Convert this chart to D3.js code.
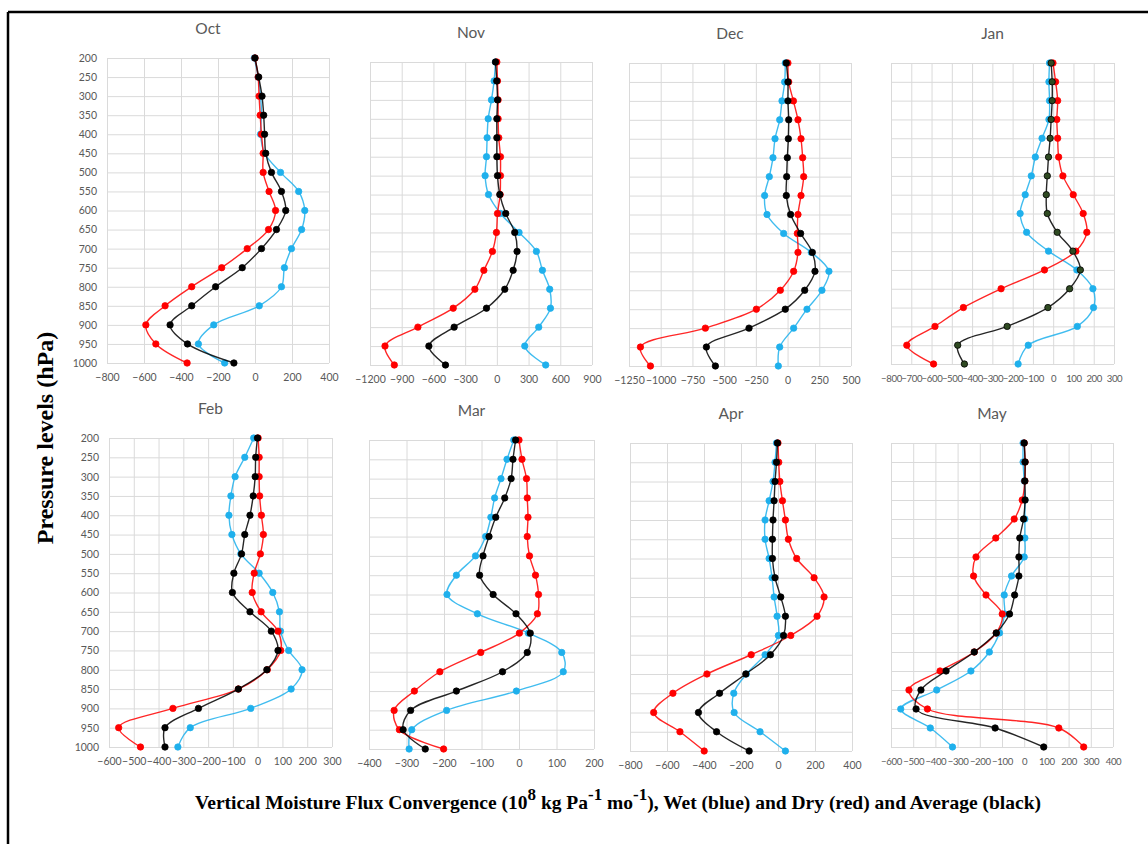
<!DOCTYPE html>
<html>
<head>
<meta charset="utf-8">
<script src="https://cdn.jsdelivr.net/npm/d3@7"></script>
<style>
  html, body { margin: 0; padding: 0; background: #fff; }
  svg { display: block; }
</style>
</head>
<body>
<svg id="chart" width="1148" height="844"></svg>
<script>
// ---------- DATA ----------
const levels = [200, 250, 300, 350, 400, 450, 500, 550, 600, 650, 700, 750, 800, 850, 900, 950, 1000];
const months = ["Oct", "Nov", "Dec", "Jan", "Feb", "Mar", "Apr", "May"];

const octTicks = [-800, -600, -400, -200, 0, 200, 400];
const octWet = [-4, 17, 30, 35, 30, 52, 138, 236, 269, 252, 197, 159, 143, 23, -223, -306, -164];
const octDry = [0, 17, 22, 28, 35, 44, 44, 76, 111, 73, -42, -180, -342, -486, -590, -536, -367];
const octAvg = [0, 20, 38, 47, 52, 58, 89, 143, 166, 116, 35, -69, -213, -342, -459, -365, -114];

const novTicks = [-1200, -900, -600, -300, 0, 300, 600, 900];
const novWet = [-13, -26, -51, -82, -92, -98, -111, -79, 34, 210, 374, 431, 500, 507, 396, 264, 462];
const novDry = [0, 6, 12, 12, 18, 34, 34, 31, 6, -4, -42, -123, -208, -413, -747, -1058, -970];
const novAvg = [-13, -1, 6, 0, 0, 0, 6, 28, 84, 169, 191, 154, 75, -98, -404, -643, -486];

const decTicks = [-1250, -1000, -750, -500, -250, 0, 250, 500];
const decWet = [-18, -23, -44, -62, -99, -115, -144, -181, -162, -31, 187, 326, 271, 153, 48, -62, -73];
const decDry = [3, 9, 46, 82, 106, 119, 127, 106, 82, 77, 82, 48, -57, -246, -648, -1160, -1081];
const decAvg = [-10, 3, 3, 9, 6, -2, -7, -10, 24, 103, 195, 216, 135, -18, -304, -640, -569];

const janTicks = [-800, -700, -600, -500, -400, -300, -200, -100, 0, 100, 200, 300];
const janWet = [-18, -21, -18, -21, -55, -88, -108, -138, -163, -131, -23, 117, 196, 199, 119, -123, -173];
const janDry = [-1, 12, 22, 18, 22, 27, 48, 99, 148, 166, 112, -43, -257, -443, -583, -722, -590];
const janAvg = [-10, -5, -5, -10, -15, -23, -29, -34, -29, 20, 97, 134, 81, -26, -227, -471, -438];

const febTicks = [-600, -500, -400, -300, -200, -100, 0, 100, 200, 300];
const febWet = [-16, -52, -91, -108, -116, -104, -68, 6, 61, 88, 92, 125, 179, 135, -28, -272, -322];
const febDry = [2, 6, 6, 8, 15, 23, 11, -14, -22, 14, 82, 93, 39, -78, -342, -561, -473];
const febAvg = [-1, -8, -10, -18, -31, -52, -65, -96, -102, -31, 55, 82, 37, -78, -239, -374, -374];

const marTicks = [-400, -300, -200, -100, 0, 100, 200];
const marWet = [-14, -32, -48, -65, -75, -89, -116, -167, -192, -111, 25, 114, 118, -7, -193, -286, -293];
const marDry = [0, 8, 20, 22, 24, 22, 28, 44, 52, 49, 1, -102, -211, -279, -333, -319, -201];
const marAvg = [-9, -16, -21, -38, -62, -80, -96, -105, -69, -8, 30, 22, -44, -167, -289, -309, -250];

const aprTicks = [-800, -600, -400, -200, 0, 200, 400];
const aprWet = [-8, -16, -27, -48, -70, -70, -48, -32, -21, -5, 2, -70, -171, -239, -237, -97, 40];
const aprDry = [0, 4, 10, 24, 40, 56, 101, 195, 249, 211, 69, -145, -384, -568, -672, -530, -399];
const aprAvg = [-3, -8, -16, -21, -27, -30, -30, -16, 15, 40, 30, -41, -174, -316, -430, -332, -156];

const mayTicks = [-600, -500, -400, -300, -200, -100, 0, 100, 200, 300, 400];
const mayWet = [-5, -5, 0, 3, 3, 3, 0, -57, -90, -88, -111, -157, -240, -394, -556, -423, -323];
const mayDry = [0, 4, 3, -9, -45, -128, -217, -228, -172, -99, -126, -225, -379, -519, -436, 156, 268];
const mayAvg = [0, 4, 3, 4, -3, -20, -24, -24, -43, -66, -126, -225, -352, -465, -487, -131, 88];

const yLabel = "Pressure levels (hPa)";

// ---------- LAYOUT / STYLE ----------
const panels = [
  { name: months[0], ticks: octTicks, wet: octWet, dry: octDry, avg: octAvg, box: [107, 329, 58, 363], yLabels: true },
  { name: months[1], ticks: novTicks, wet: novWet, dry: novDry, avg: novAvg, box: [370, 592, 62, 365] },
  { name: months[2], ticks: decTicks, wet: decWet, dry: decDry, avg: decAvg, box: [629, 851, 63, 366] },
  { name: months[3], ticks: janTicks, wet: janWet, dry: janDry, avg: janAvg, box: [891, 1114, 63, 364], avgFill: "#2f4a22", dense: true },
  { name: months[4], ticks: febTicks, wet: febWet, dry: febDry, avg: febAvg, box: [109, 332, 438, 747], yLabels: true },
  { name: months[5], ticks: marTicks, wet: marWet, dry: marDry, avg: marAvg, box: [369, 594, 440, 749] },
  { name: months[6], ticks: aprTicks, wet: aprWet, dry: aprDry, avg: aprAvg, box: [630, 852, 443, 751] },
  { name: months[7], ticks: mayTicks, wet: mayWet, dry: mayDry, avg: mayAvg, box: [891, 1113, 443, 747], dense: true }
];

const BLUE = "#1fb0ec", RED = "#ff0000", BLACK = "#000000";
const labelFont = "Lato, 'Open Sans', sans-serif";
const grey = "#595959";

const svg = d3.select("#chart");

// frame (top and left edges)
svg.append("line").attr("x1", 8).attr("x2", 1148).attr("y1", 12).attr("y2", 12)
  .attr("stroke", "#000").attr("stroke-width", 2.5);
svg.append("line").attr("x1", 8).attr("x2", 8).attr("y1", 12).attr("y2", 844)
  .attr("stroke", "#000").attr("stroke-width", 2.5);

panels.forEach(p => {
  const [x0, x1, y0, y1] = p.box;
  const t = p.ticks;
  const x = d3.scaleLinear().domain([t[0], t[t.length - 1]]).range([x0, x1]);
  const y = d3.scaleLinear().domain([200, 1000]).range([y0, y1]);
  const g = svg.append("g");

  // grid: horizontal
  g.append("g")
    .attr("transform", `translate(${x0},0)`)
    .call(d3.axisLeft(y).tickValues(levels).tickSize(-(x1 - x0)).tickFormat(p.yLabels ? d3.format("d") : ""))
    .call(a => a.select(".domain").remove())
    .call(a => a.selectAll("line").attr("stroke", "#dadada").attr("stroke-width", 1))
    .call(a => a.selectAll("text").attr("fill", grey).attr("font-size", 10.5)
      .attr("font-family", labelFont).attr("x", -10));

  // grid: vertical + x tick labels
  g.append("g")
    .attr("transform", `translate(0,${y1})`)
    .call(d3.axisBottom(x).tickValues(t).tickSize(-(y1 - y0)).tickFormat(d3.format("d")))
    .call(a => a.select(".domain").remove())
    .call(a => a.selectAll("line").attr("stroke", "#dadada").attr("stroke-width", 1))
    .call(a => a.selectAll("text").attr("fill", grey)
      .attr("font-size", p.dense ? 9.6 : 10.5)
      .attr("letter-spacing", p.dense ? -0.35 : 0)
      .attr("font-family", labelFont).attr("y", 11).attr("dy", "0.71em"));

  // title
  g.append("text")
    .attr("x", (x0 + x1) / 2 - 10)
    .attr("y", y0 - 24)
    .attr("text-anchor", "middle")
    .attr("font-family", labelFont)
    .attr("font-size", 15.5)
    .attr("fill", grey)
    .text(p.name);

  const line = d3.line()
    .x(d => x(d[0]))
    .y(d => y(d[1]))
    .curve(d3.curveCatmullRom.alpha(0.5));

  const series = [
    { vals: p.wet, color: BLUE, fill: BLUE },
    { vals: p.dry, color: RED, fill: RED },
    { vals: p.avg, color: BLACK, fill: p.avgFill || BLACK }
  ];
  series.forEach(s => {
    const pts = s.vals.map((v, i) => [v, levels[i]]);
    g.append("path").datum(pts)
      .attr("d", line)
      .attr("fill", "none")
      .attr("stroke", s.color)
      .attr("stroke-opacity", 0.85)
      .attr("stroke-width", 1.4);
    g.selectAll(null).data(pts).enter().append("circle")
      .attr("cx", d => x(d[0]))
      .attr("cy", d => y(d[1]))
      .attr("r", 3.2)
      .attr("fill", s.fill)
      .attr("stroke", s.color)
      .attr("stroke-width", 0.8);
  });
});

// axis titles
svg.append("text")
  .attr("transform", "translate(53,438) rotate(-90)")
  .attr("text-anchor", "middle")
  .attr("font-family", "'Liberation Serif', 'Times New Roman', serif")
  .attr("font-weight", "bold")
  .attr("font-size", 24)
  .attr("fill", "#000")
  .text(yLabel);

const xt = svg.append("text")
  .attr("x", 618)
  .attr("y", 809)
  .attr("text-anchor", "middle")
  .attr("font-family", "'Liberation Serif', 'Times New Roman', serif")
  .attr("font-weight", "bold")
  .attr("font-size", 19.5)
  .attr("fill", "#000");
xt.append("tspan").text("Vertical Moisture Flux Convergence (10");
xt.append("tspan").attr("dy", -9).attr("font-size", 17).text("8");
xt.append("tspan").attr("dy", 9).text(" kg Pa");
xt.append("tspan").attr("dy", -9).attr("font-size", 17).text("-1");
xt.append("tspan").attr("dy", 9).text(" mo");
xt.append("tspan").attr("dy", -9).attr("font-size", 17).text("-1");
xt.append("tspan").attr("dy", 9).text("), Wet (blue) and Dry (red) and Average (black)");
</script>
</body>
</html>
